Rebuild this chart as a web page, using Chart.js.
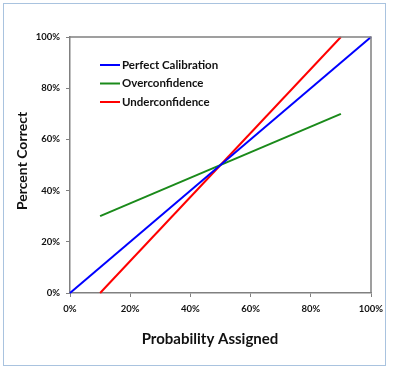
<!DOCTYPE html>
<html><head><meta charset="utf-8">
<script src="https://cdn.jsdelivr.net/npm/chart.js@4"></script>
<style>
html,body{margin:0;padding:0;background:#fff;}
#wrap{position:relative;width:400px;height:372px;}
#frame{position:absolute;left:3px;top:3px;width:381px;height:361px;border:1px solid #a9c3df;box-sizing:content-box;}
canvas{position:absolute;left:0;top:0;}
</style></head>
<body><div id="wrap"><div id="frame"></div><canvas id="c" width="400" height="372"></canvas></div>
<script>
const seriesNames = ["Perfect Calibration", "Overconfidence", "Underconfidence"];
const seriesColors = ["#0000ff", "#1a8a1a", "#ff0000"];
const perfectX = [0, 100], perfectY = [0, 100];
const overX = [10, 90], overY = [30, 70];
const underX = [10, 90], underY = [0, 100];
const xTitle = "Probability Assigned";
const yTitle = "Percent Correct";

const toPts = (xs, ys) => xs.map((x, i) => ({x, y: ys[i]}));
const FONT = "Lato, 'Open Sans', sans-serif";

const frameAndLegend = {
  id: 'frameAndLegend',
  afterDraw(chart) {
    const {ctx, chartArea: a} = chart;
    ctx.save();
    ctx.strokeStyle = '#808080';
    ctx.lineWidth = 1.5;
    ctx.beginPath();
    ctx.moveTo(a.left, a.top); ctx.lineTo(a.right, a.top); ctx.lineTo(a.right, a.bottom);
    ctx.stroke();
    // legend
    ctx.font = "bold 11.5px " + FONT;
    ctx.textBaseline = 'middle';
    chart.data.datasets.forEach((ds, i) => {
      const y = 65 + i * 18.5;
      ctx.strokeStyle = ds.borderColor; ctx.lineWidth = 2;
      ctx.beginPath(); ctx.moveTo(100, y); ctx.lineTo(120, y); ctx.stroke();
      ctx.fillStyle = '#111';
      ctx.fillText(ds.label, 122, y);
    });
    // titles
    ctx.fillStyle = '#111';
    ctx.textAlign = 'center';
    ctx.font = "bold 15px " + FONT;
    ctx.fillText(xTitle, 210, 339);
    ctx.translate(22, 161); ctx.rotate(-Math.PI / 2);
    ctx.font = "bold 14px " + FONT;
    ctx.fillText(yTitle, 0, 0);
    ctx.restore();
  }
};

new Chart(document.getElementById('c'), {
  type: 'scatter',
  data: {
    datasets: [
      {label: seriesNames[0], data: toPts(perfectX, perfectY), borderColor: seriesColors[0]},
      {label: seriesNames[1], data: toPts(overX, overY), borderColor: seriesColors[1]},
      {label: seriesNames[2], data: toPts(underX, underY), borderColor: seriesColors[2]}
    ].map(d => Object.assign(d, {showLine: true, borderWidth: 2, pointRadius: 0, backgroundColor: d.borderColor, clip: false}))
  },
  options: {
    responsive: false, animation: false, devicePixelRatio: 1,
    layout: {padding: {left: 0, top: 37, right: 29, bottom: 0}},
    plugins: {legend: {display: false}, tooltip: {enabled: false}},
    scales: {
      x: {
        type: 'linear', min: 0, max: 100,
        afterFit: s => { s.height = 79; },
        grid: {drawOnChartArea: false, drawTicks: true, tickLength: 4, color: '#808080'},
        border: {display: true, color: '#808080', width: 1.5},
        ticks: {stepSize: 20, padding: 6, color: '#111', font: {family: FONT, size: 9.5, weight: 'bold'}, callback: v => v + '%', maxRotation: 0},
      },
      y: {
        type: 'linear', min: 0, max: 100,
        afterFit: s => { s.width = 70; },
        grid: {drawOnChartArea: false, drawTicks: true, tickLength: 4, color: '#808080'},
        border: {display: true, color: '#808080', width: 1.5},
        ticks: {stepSize: 20, padding: 6, color: '#111', font: {family: FONT, size: 9.5, weight: 'bold'}, callback: v => v + '%'},
      }
    }
  },
  plugins: [frameAndLegend]
});
</script></body></html>
